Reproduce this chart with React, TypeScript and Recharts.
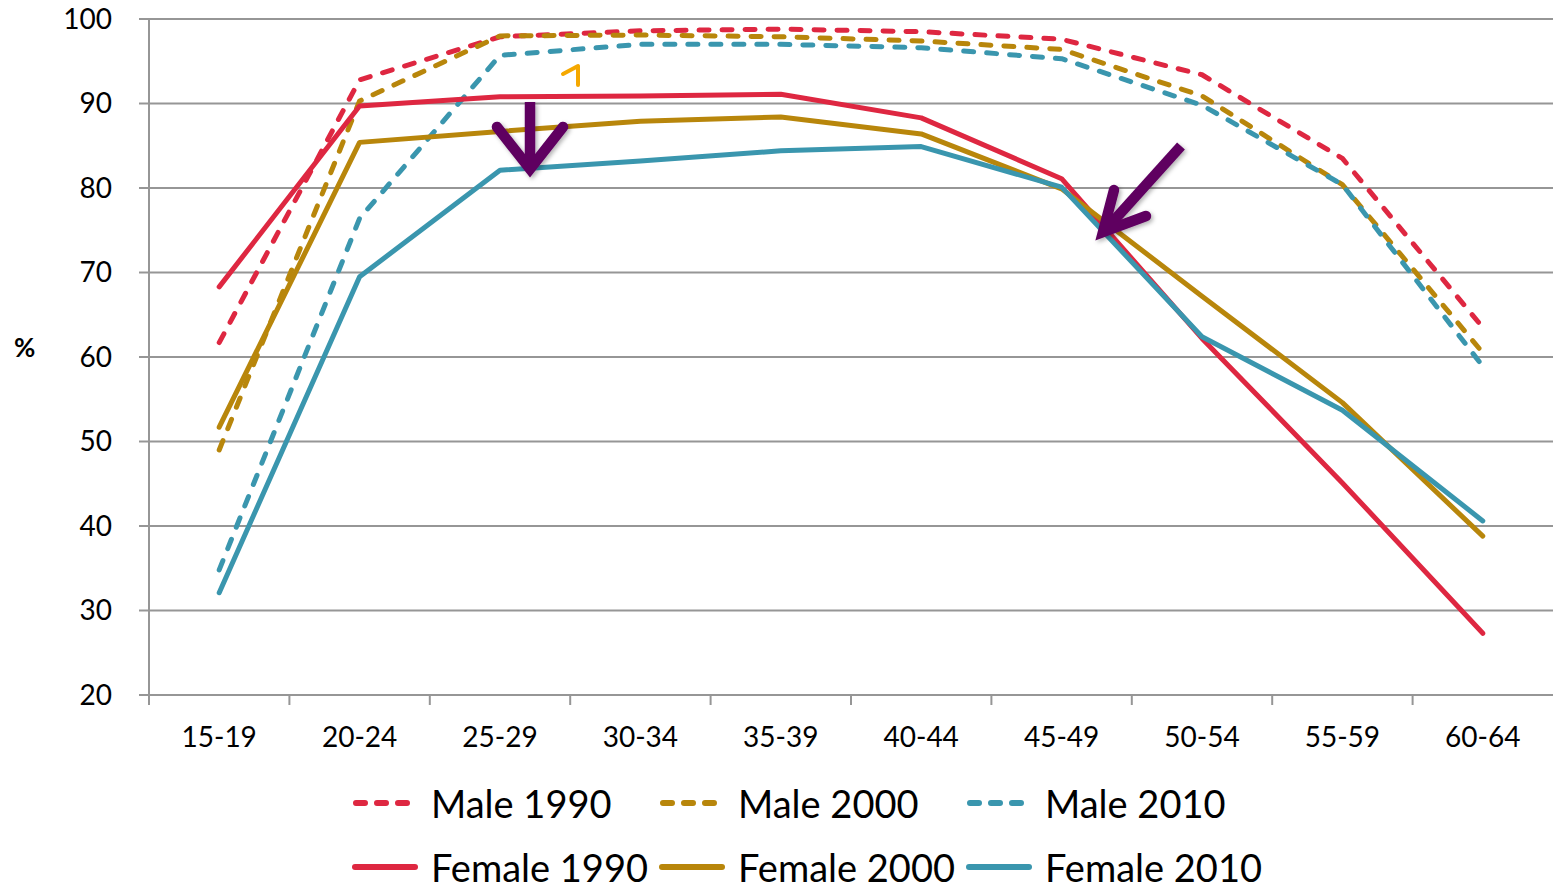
import { LineChart, Line, XAxis, YAxis, CartesianGrid, Legend } from "recharts";

// ─── Data ───
const categories = ["15-19", "20-24", "25-29", "30-34", "35-39", "40-44", "45-49", "50-54", "55-59", "60-64"];
const male1990 = [61.7, 92.8, 97.9, 98.6, 98.8, 98.5, 97.6, 93.4, 83.5, 63.5];
const male2000 = [49.0, 90.3, 98.0, 98.1, 97.9, 97.4, 96.4, 90.9, 80.4, 60.5];
const male2010 = [34.8, 76.4, 95.7, 97.0, 97.0, 96.6, 95.3, 89.8, 80.4, 58.9];
const female1990 = [68.3, 89.7, 90.8, 90.9, 91.1, 88.3, 81.1, 62.2, 45.1, 27.3];
const female2000 = [51.7, 85.4, 86.7, 87.9, 88.4, 86.4, 79.9, 67.2, 54.6, 38.8];
const female2010 = [32.1, 69.5, 82.1, 83.2, 84.4, 84.9, 80.1, 62.4, 53.7, 40.6];
const yTicks = [20, 30, 40, 50, 60, 70, 80, 90, 100];

const RED = "#DE2741";
const GOLD = "#B8860B";
const TEAL = "#3A96AE";
const GRID = "#969696";
const FONT = "Lato, 'Open Sans', sans-serif";
const DASH = "10 13";

const series = [
  { key: "m1990", name: "Male 1990", color: RED, dashed: true },
  { key: "m2000", name: "Male 2000", color: GOLD, dashed: true },
  { key: "m2010", name: "Male 2010", color: TEAL, dashed: true },
  { key: "f1990", name: "Female 1990", color: RED, dashed: false },
  { key: "f2000", name: "Female 2000", color: GOLD, dashed: false },
  { key: "f2010", name: "Female 2010", color: TEAL, dashed: false },
];

const data = categories.map((c, i) => ({
  age: c,
  m1990: male1990[i],
  m2000: male2000[i],
  m2010: male2010[i],
  f1990: female1990[i],
  f2000: female2000[i],
  f2010: female2010[i],
}));

const PLOT_LEFT = 149;
const PLOT_RIGHT = 1553;
const BAND = (PLOT_RIGHT - PLOT_LEFT) / categories.length;

// ─── X tick: label centred, tick mark on band boundary (Excel style) ───
function AgeTick({ x, y, payload }: { x: number; y: number; payload: { value: string } }) {
  const bx = x - BAND / 2;
  return (
    <g>
      <line x1={bx} y1={y} x2={bx} y2={y + 10} stroke={GRID} strokeWidth={2} />
      <text x={x} y={y + 52} textAnchor="middle" fontSize={28} fontFamily={FONT} fill="#000">
        {payload.value}
      </text>
    </g>
  );
}

// ─── Legend in two rows of three ───
function ChartLegend() {
  return (
    <div style={{ position: "relative", width: 1553, height: 130, fontFamily: FONT }}>
      {series.map((s, i) => {
        const col = i % 3;
        const row = Math.floor(i / 3);
        const left = 352 + col * 307;
        const cy = row === 0 ? 44 : 108;
        return (
          <div key={s.key} style={{ position: "absolute", left, top: cy - 19, height: 38, display: "flex", alignItems: "center" }}>
            <svg width={66} height={12} style={{ display: "block" }}>
              {s.dashed ? (
                <line x1={4} y1={6} x2={62} y2={6} stroke={s.color} strokeWidth={6} strokeDasharray="9 12" strokeLinecap="round" />
              ) : (
                <line x1={3} y1={6} x2={63} y2={6} stroke={s.color} strokeWidth={6} strokeLinecap="round" />
              )}
            </svg>
            <span style={{ marginLeft: 13, fontSize: 38, color: "#000", whiteSpace: "nowrap", lineHeight: "38px" }}>
              {s.name}
            </span>
          </div>
        );
      })}
    </div>
  );
}

// ─── Annotations (purple arrows, small orange mark) ───
function Annotations() {
  return (
    <svg width={1553} height={889} style={{ position: "absolute", left: 0, top: 0, pointerEvents: "none" }}>
      <defs>
        <filter id="arrowShadow" x="-20%" y="-20%" width="140%" height="140%">
          <feDropShadow dx={2} dy={2} stdDeviation={2} floodColor="#000" floodOpacity={0.3} />
        </filter>
      </defs>
      <g filter="url(#arrowShadow)" stroke="#5F0060" fill="none" strokeWidth={10.5}>
        <line x1={530} y1={102} x2={530} y2={164} />
        <polyline points="497,127 530,169 563,127" strokeLinecap="round" strokeLinejoin="miter" />
        <line x1={1181} y1={146} x2={1108} y2={227} />
        <polyline points="1114,190 1103,232 1146,216" strokeLinecap="round" strokeLinejoin="miter" />
      </g>
      <polyline points="563,74 578,66 578,85" stroke="#F5A800" strokeWidth={4} fill="none" strokeLinecap="round" strokeLinejoin="round" />
    </svg>
  );
}

export default function App() {
  return (
    <div style={{ position: "absolute", left: 0, top: 0, width: 1553, height: 889, background: "#fff", fontFamily: FONT }}>
      <LineChart width={1553} height={889} data={data} margin={{ top: 19, right: 0, bottom: 0, left: 0 }}>
        <CartesianGrid vertical={false} stroke={GRID} strokeWidth={2} />
        <XAxis
          dataKey="age"
          scale="band"
          height={64}
          axisLine={{ stroke: GRID, strokeWidth: 2 }}
          tickLine={false}
          tickSize={0}
          tickMargin={0}
          interval={0}
          tick={(props: any) => <AgeTick {...props} />}
        />
        <YAxis
          width={149}
          domain={[20, 100]}
          ticks={yTicks}
          interval={0}
          axisLine={{ stroke: GRID, strokeWidth: 2 }}
          tickLine={{ stroke: GRID, strokeWidth: 2 }}
          tickSize={10}
          tickMargin={27}
          tick={{ fontSize: 28, fontFamily: FONT, fill: "#000" }}
          label={{ value: "%", position: "insideLeft", offset: 14, dy: -9, style: { fontSize: 26, fontWeight: 700, fontFamily: FONT, fill: "#000" } }}
        />
        <Legend verticalAlign="bottom" content={() => <ChartLegend />} wrapperStyle={{ left: 0, width: 1553 }} />
        {series.map((s) => (
          <Line
            key={s.key}
            type="linear"
            dataKey={s.key}
            name={s.name}
            stroke={s.color}
            strokeWidth={5}
            strokeDasharray={s.dashed ? DASH : undefined}
            strokeLinecap="round"
            strokeLinejoin="round"
            dot={false}
            activeDot={false}
            isAnimationActive={false}
          />
        ))}
      </LineChart>
      <Annotations />
    </div>
  );
}
